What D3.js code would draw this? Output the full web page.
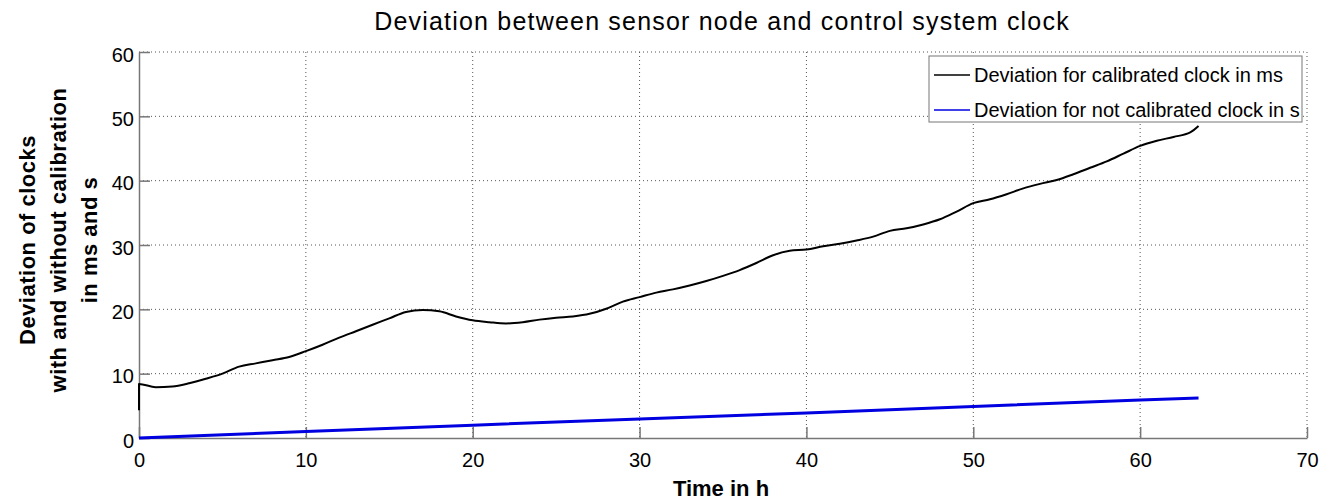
<!DOCTYPE html>
<meta charset="utf-8" />
<title>Deviation between sensor node and control system clock</title>
<style>
  body { margin: 0; background: #fff; }
  svg { display: block; font-family: "Liberation Sans", Arial, sans-serif; }
  .grid line { stroke: #555; stroke-width: 1; stroke-dasharray: 1,3; }
  .axis path, .axis line { stroke: #777; stroke-width: 1.5; }
  .axis text { font-size: 20px; fill: #000; }
  .label { font-weight: bold; }
</style>
<body>
<svg width="1322" height="501"></svg>
<script src="https://d3js.org/d3.v7.min.js"></script>
<script>
  // calibrated clock deviation in ms
  const calTime = [0, 0, 1, 2, 3, 4, 5, 6, 7, 8, 9, 10, 11, 12, 13, 14, 15, 16, 17, 18, 19, 20,
    21, 22, 23, 24, 25, 26, 27, 28, 29, 30, 31, 32, 33, 34, 35, 36, 37, 38, 39, 40,
    41, 42, 43, 44, 45, 46, 47, 48, 49, 50, 51, 52, 53, 54, 55, 56, 57, 58, 59, 60,
    61, 62, 63, 63.5];
  const calDev = [4.3, 8.4, 7.9, 8.0, 8.5, 9.2, 10.0, 11.1, 11.6, 12.1, 12.6, 13.5, 14.5, 15.6, 16.6, 17.6, 18.6, 19.6, 19.9, 19.7, 18.9, 18.3,
    18.0, 17.8, 18.0, 18.4, 18.7, 18.9, 19.3, 20.1, 21.2, 21.9, 22.6, 23.1, 23.7, 24.4, 25.2, 26.1, 27.2, 28.4, 29.1, 29.3,
    29.8, 30.2, 30.7, 31.3, 32.2, 32.6, 33.2, 34.0, 35.2, 36.5, 37.1, 37.9, 38.8, 39.5, 40.1, 41.0, 42.0, 43.0, 44.2, 45.4,
    46.2, 46.8, 47.5, 48.5];

  // not calibrated clock deviation in s
  const rawTime = [0, 10, 20, 30, 40, 50, 60, 63.5];
  const rawDev = [0, 1.0, 2.0, 2.95, 3.9, 4.9, 5.9, 6.2];

  const xTicks = [0, 10, 20, 30, 40, 50, 60, 70];
  const yTicks = [0, 10, 20, 30, 40, 50, 60];
  const legendLabels = ["Deviation for calibrated clock in ms", "Deviation for not calibrated clock in s"];
  const seriesColors = ["#000", "#0000e0"];

  const svg = d3.select("svg");
  const plotL = 139, plotR = 1307, plotT = 52, plotB = 438;

  const x = d3.scaleLinear().domain([0, 70]).range([plotL, plotR]);
  const y = d3.scaleLinear().domain([0, 60]).range([plotB, plotT]);

  // grid
  const grid = svg.append("g").attr("class", "grid");
  grid.selectAll("line.v").data(xTicks.slice(1)).enter().append("line")
    .attr("x1", d => x(d)).attr("x2", d => x(d)).attr("y1", plotT).attr("y2", plotB);
  grid.selectAll("line.h").data(yTicks.slice(1)).enter().append("line")
    .attr("x1", plotL).attr("x2", plotR).attr("y1", d => y(d)).attr("y2", d => y(d));

  // axes, ticks pointing inward
  svg.append("g").attr("class", "axis")
    .attr("transform", `translate(0,${plotB})`)
    .call(d3.axisBottom(x).tickValues(xTicks).tickSize(-11).tickPadding(15).tickSizeOuter(0));
  svg.append("g").attr("class", "axis")
    .attr("transform", `translate(${plotL},0)`)
    .call(d3.axisLeft(y).tickValues(yTicks).tickSize(-11).tickPadding(5).tickSizeOuter(0))
    .selectAll("text").attr("dy", "0.45em");
  svg.selectAll(".axis .tick line").attr("stroke", "#444").attr("stroke-width", 1);
  svg.selectAll(".axis .domain").attr("stroke", "#888");

  const line = d3.line().x(d => x(d[0])).y(d => y(d[1]));

  svg.append("path")
    .datum(rawTime.map((t, i) => [t, rawDev[i]]))
    .attr("fill", "none").attr("stroke", seriesColors[1]).attr("stroke-width", 3)
    .attr("d", line);

  svg.append("path")
    .datum(calTime.map((t, i) => [t, calDev[i]]))
    .attr("fill", "none").attr("stroke", seriesColors[0]).attr("stroke-width", 2)
    .attr("stroke-linejoin", "round")
    .attr("d", d3.line().curve(d3.curveMonotoneX).x(d => x(d[0])).y(d => y(d[1])));

  // title and labels
  svg.append("text").attr("x", 722).attr("y", 30).attr("text-anchor", "middle")
    .style("font-size", "25px").style("letter-spacing", "1.2px")
    .text("Deviation between sensor node and control system clock");
  svg.append("text").attr("class", "label").attr("x", 721).attr("y", 496)
    .attr("text-anchor", "middle").style("font-size", "22px").text("Time in h");
  const yl = ["Deviation of clocks", "with and without calibration", "in ms and s"];
  svg.append("g").attr("transform", "translate(35,240) rotate(-90)")
    .selectAll("text").data(yl).enter().append("text")
    .attr("class", "label").attr("text-anchor", "middle")
    .style("font-size", "22px").style("letter-spacing", "0.5px")
    .attr("y", (d, i) => i * 31).text(d => d);

  // legend
  const lg = svg.append("g").attr("transform", "translate(929,56)");
  lg.append("rect").attr("width", 373).attr("height", 66)
    .attr("fill", "#fff").attr("stroke", "#777").attr("stroke-width", 1);
  const item = lg.selectAll("g").data(legendLabels).enter().append("g")
    .attr("transform", (d, i) => `translate(0,${19 + i * 35})`);
  item.append("line").attr("x1", 5).attr("x2", 41)
    .attr("stroke", (d, i) => seriesColors[i]).attr("stroke-width", 1.5);
  item.append("text").attr("x", 45).attr("dy", "0.36em")
    .style("font-size", "20px").text(d => d);
</script>
</body>
